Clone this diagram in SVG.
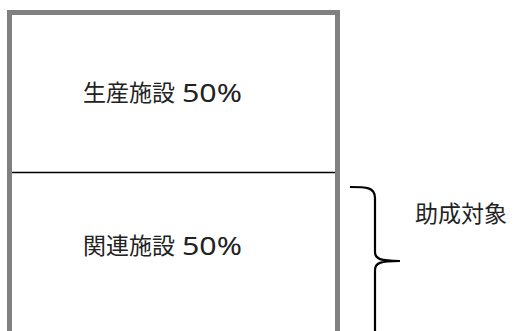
<svg xmlns="http://www.w3.org/2000/svg" width="513" height="331" viewBox="0 0 513 331">
<style>
.t{font-family:"Noto Sans CJK JP","Noto Sans",sans-serif;font-size:23px;fill:#222}
.n{font-family:"Noto Sans","Noto Sans CJK JP",sans-serif;font-size:26px;fill:#222}
</style>
<rect width="513" height="331" fill="#fff"/>
<g id="box">
<path d="M9.5,331 V12.5 H337.5 V331" fill="none" stroke="#808080" stroke-width="5"/>
<line x1="12" y1="172.5" x2="335" y2="172.5" stroke="#000" stroke-width="1.6"/>
</g>
<g id="production">
<text class="t" x="83" y="101">生産施設</text>
<text class="n" x="182" y="101.5" textLength="60" lengthAdjust="spacingAndGlyphs">50%</text>
</g>
<g id="related">
<text class="t" x="83" y="254">関連施設</text>
<text class="n" x="182" y="254.5" textLength="60" lengthAdjust="spacingAndGlyphs">50%</text>
</g>
<g id="connectors">
<path d="M350,187 C366,187 375,187 375,198 V252 C375,259 380,261 400,261 M400,261 C380,261 375,263 375,270 V331" fill="none" stroke="#000" stroke-width="2.2"/>
</g>
<g id="target">
<text class="t" x="415" y="222">助成対象</text>
</g>
</svg>
